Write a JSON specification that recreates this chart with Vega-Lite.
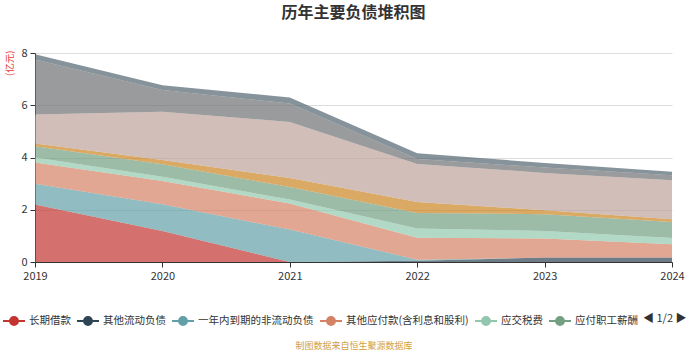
{
  "$schema": "https://vega.github.io/schema/vega-lite/v6.json",
  "width": 637,
  "height": 209,
  "autosize": {"type": "none"},
  "padding": {"left": 35, "top": 53, "right": 28, "bottom": 88},
  "background": "#ffffff",
  "title": {
    "text": "历年主要负债堆积图",
    "anchor": "middle",
    "fontSize": 16,
    "fontWeight": "bold",
    "color": "#333333",
    "font": "Noto Sans CJK SC",
    "offset": 26
  },
  "data": {
    "values": [
      {"year": "2019", "series": "长期借款", "idx": 1, "value": 2.2},
      {"year": "2020", "series": "长期借款", "idx": 1, "value": 1.19},
      {"year": "2021", "series": "长期借款", "idx": 1, "value": 0},
      {"year": "2022", "series": "长期借款", "idx": 1, "value": 0},
      {"year": "2023", "series": "长期借款", "idx": 1, "value": 0},
      {"year": "2024", "series": "长期借款", "idx": 1, "value": 0},
      {"year": "2019", "series": "其他流动负债", "idx": 2, "value": 0},
      {"year": "2020", "series": "其他流动负债", "idx": 2, "value": 0},
      {"year": "2021", "series": "其他流动负债", "idx": 2, "value": 0},
      {"year": "2022", "series": "其他流动负债", "idx": 2, "value": 0.05},
      {"year": "2023", "series": "其他流动负债", "idx": 2, "value": 0.17},
      {"year": "2024", "series": "其他流动负债", "idx": 2, "value": 0.17},
      {"year": "2019", "series": "一年内到期的非流动负债", "idx": 3, "value": 0.8},
      {"year": "2020", "series": "一年内到期的非流动负债", "idx": 3, "value": 1.02},
      {"year": "2021", "series": "一年内到期的非流动负债", "idx": 3, "value": 1.24},
      {"year": "2022", "series": "一年内到期的非流动负债", "idx": 3, "value": 0.04},
      {"year": "2023", "series": "一年内到期的非流动负债", "idx": 3, "value": 0},
      {"year": "2024", "series": "一年内到期的非流动负债", "idx": 3, "value": 0},
      {"year": "2019", "series": "其他应付款(含利息和股利)", "idx": 4, "value": 0.81},
      {"year": "2020", "series": "其他应付款(含利息和股利)", "idx": 4, "value": 0.89},
      {"year": "2021", "series": "其他应付款(含利息和股利)", "idx": 4, "value": 1.0},
      {"year": "2022", "series": "其他应付款(含利息和股利)", "idx": 4, "value": 0.84},
      {"year": "2023", "series": "其他应付款(含利息和股利)", "idx": 4, "value": 0.73},
      {"year": "2024", "series": "其他应付款(含利息和股利)", "idx": 4, "value": 0.51},
      {"year": "2019", "series": "应交税费", "idx": 5, "value": 0.19},
      {"year": "2020", "series": "应交税费", "idx": 5, "value": 0.16},
      {"year": "2021", "series": "应交税费", "idx": 5, "value": 0.15},
      {"year": "2022", "series": "应交税费", "idx": 5, "value": 0.35},
      {"year": "2023", "series": "应交税费", "idx": 5, "value": 0.29},
      {"year": "2024", "series": "应交税费", "idx": 5, "value": 0.24},
      {"year": "2019", "series": "应付职工薪酬", "idx": 6, "value": 0.43},
      {"year": "2020", "series": "应付职工薪酬", "idx": 6, "value": 0.48},
      {"year": "2021", "series": "应付职工薪酬", "idx": 6, "value": 0.48},
      {"year": "2022", "series": "应付职工薪酬", "idx": 6, "value": 0.6},
      {"year": "2023", "series": "应付职工薪酬", "idx": 6, "value": 0.64},
      {"year": "2024", "series": "应付职工薪酬", "idx": 6, "value": 0.61},
      {"year": "2019", "series": "合同负债", "idx": 7, "value": 0.11},
      {"year": "2020", "series": "合同负债", "idx": 7, "value": 0.16},
      {"year": "2021", "series": "合同负债", "idx": 7, "value": 0.35},
      {"year": "2022", "series": "合同负债", "idx": 7, "value": 0.42},
      {"year": "2023", "series": "合同负债", "idx": 7, "value": 0.15},
      {"year": "2024", "series": "合同负债", "idx": 7, "value": 0.11},
      {"year": "2019", "series": "应付账款", "idx": 8, "value": 1.11},
      {"year": "2020", "series": "应付账款", "idx": 8, "value": 1.85},
      {"year": "2021", "series": "应付账款", "idx": 8, "value": 2.14},
      {"year": "2022", "series": "应付账款", "idx": 8, "value": 1.45},
      {"year": "2023", "series": "应付账款", "idx": 8, "value": 1.43},
      {"year": "2024", "series": "应付账款", "idx": 8, "value": 1.49},
      {"year": "2019", "series": "短期借款", "idx": 9, "value": 2.1},
      {"year": "2020", "series": "短期借款", "idx": 9, "value": 0.83},
      {"year": "2021", "series": "短期借款", "idx": 9, "value": 0.71},
      {"year": "2022", "series": "短期借款", "idx": 9, "value": 0.19},
      {"year": "2023", "series": "短期借款", "idx": 9, "value": 0.21},
      {"year": "2024", "series": "短期借款", "idx": 9, "value": 0.19},
      {"year": "2019", "series": "应付票据", "idx": 10, "value": 0.2},
      {"year": "2020", "series": "应付票据", "idx": 10, "value": 0.19},
      {"year": "2021", "series": "应付票据", "idx": 10, "value": 0.23},
      {"year": "2022", "series": "应付票据", "idx": 10, "value": 0.22},
      {"year": "2023", "series": "应付票据", "idx": 10, "value": 0.17},
      {"year": "2024", "series": "应付票据", "idx": 10, "value": 0.13}
    ]
  },
  "mark": {"type": "area", "opacity": 0.7, "line": false, "interpolate": "linear"},
  "encoding": {
    "x": {
      "field": "year",
      "type": "ordinal",
      "scale": {"padding": 0},
      "axis": {
        "labelAngle": 0,
        "title": "制图数据来自恒生聚源数据库",
        "titleColor": "#d4a03c",
        "titleFontSize": 9,
        "titleFontWeight": "normal",
        "titleFont": "Noto Sans CJK SC",
        "titleY": 83,
        "titleBaseline": "middle",
        "domainColor": "#333333",
        "tickColor": "#333333",
        "tickSize": 5,
        "labelColor": "#333333",
        "labelFontSize": 11,
        "labelPadding": 3,
        "grid": false
      }
    },
    "y": {
      "field": "value",
      "type": "quantitative",
      "stack": "zero",
      "scale": {"domain": [0, 8], "nice": false},
      "axis": {
        "values": [0, 2, 4, 6, 8],
        "title": "(亿元)",
        "titleColor": "#e8342e",
        "titleFontSize": 9.5,
        "titleFontWeight": "normal",
        "titleFont": "Noto Sans CJK SC",
        "titleAnchor": "end",
        "titleAngle": -90,
        "titleX": -26,
        "titleY": -3,
        "titleAlign": "right",
        "titleBaseline": "middle",
        "domainColor": "#333333",
        "tickColor": "#333333",
        "tickSize": 5,
        "labelColor": "#333333",
        "labelFontSize": 11,
        "labelPadding": 3,
        "grid": true,
        "gridColor": "#dddddd"
      }
    },
    "color": {
      "field": "series",
      "type": "nominal",
      "scale": {
        "domain": ["长期借款", "其他流动负债", "一年内到期的非流动负债", "其他应付款(含利息和股利)", "应交税费", "应付职工薪酬", "合同负债", "应付账款", "短期借款", "应付票据"],
        "range": ["#c23531", "#2f4554", "#61a0a8", "#d48265", "#91c7ae", "#749f83", "#ca8622", "#bda29a", "#6e7074", "#546570"]
      },
      "legend": {
        "values": ["长期借款", "其他流动负债", "一年内到期的非流动负债", "其他应付款(含利息和股利)", "应交税费", "应付职工薪酬"],
        "orient": "none",
        "legendX": -33,
        "legendY": 256,
        "direction": "horizontal",
        "columns": 6,
        "columnPadding": 2,
        "title": "◀ 1/2 ▶",
        "titleOrient": "right",
        "titleColor": "#333333",
        "titleFontSize": 11,
        "titleFontWeight": "normal",
        "titlePadding": 5,
        "labelFontSize": 10.5,
        "labelColor": "#333333",
        "labelFont": "Noto Sans CJK SC",
        "labelLimit": 130,
        "labelOffset": 3,
        "symbolType": "M-1,0H-0.36M0.36,0H1M-0.36,0A0.36,0.36 0 1,1 0.36,0A0.36,0.36 0 1,1 -0.36,0Z",
        "symbolSize": 484,
        "symbolOpacity": 1,
        "symbolStrokeWidth": 2,
        "encode": {
          "symbols": {
            "update": {
              "stroke": {"scale": "color", "field": "value"},
              "fill": {"scale": "color", "field": "value"},
              "opacity": {"value": 1}
            }
          }
        }
      }
    },
    "order": {"field": "idx", "type": "quantitative", "sort": "ascending"}
  },
  "config": {
    "view": {"stroke": null},
    "font": "Noto Sans CJK SC"
  }
}
